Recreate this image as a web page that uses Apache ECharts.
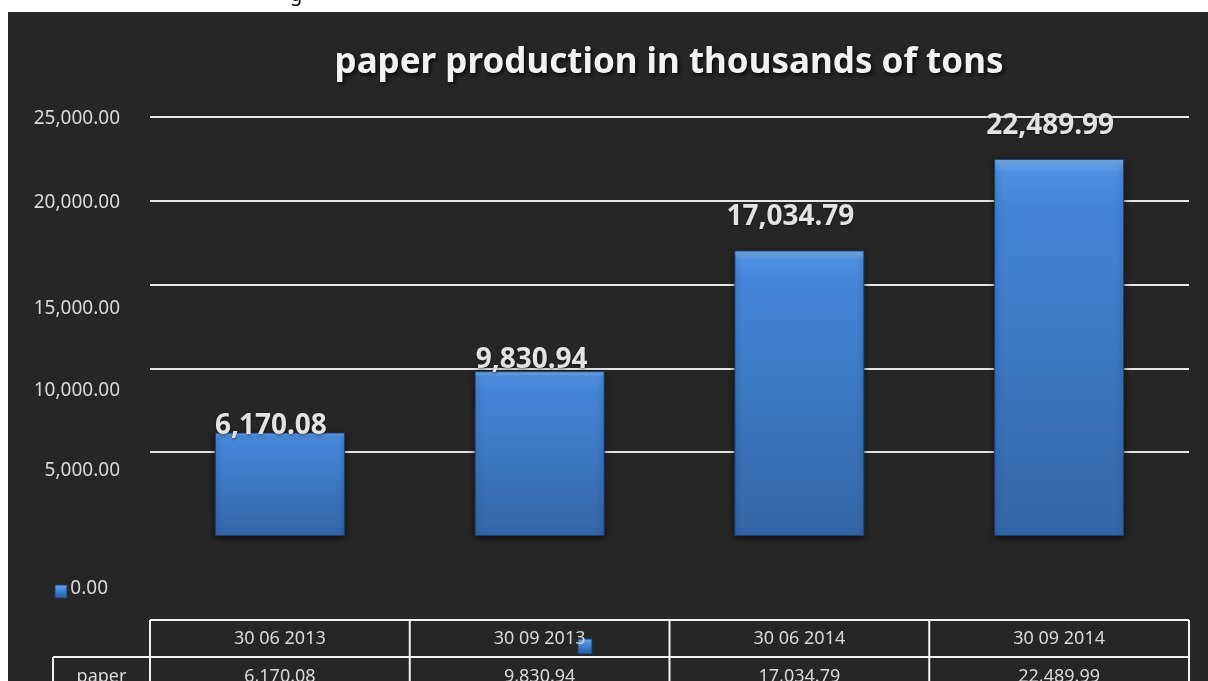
<!DOCTYPE html>
<html>
<head>
<meta charset="utf-8">
<script src="https://cdn.jsdelivr.net/npm/echarts@6/dist/echarts.min.js"></script>
<style>
html,body{margin:0;padding:0;background:#fff;}
#c{width:1208px;height:681px;}
</style>
</head>
<body>
<div id="c"></div>
<script>
// ---- data ----
var categories = ['30 06 2013', '30 09 2013', '30 06 2014', '30 09 2014'];
var seriesName = 'paper';
var paperValues = [6170.08, 9830.94, 17034.79, 22489.99];
var yTicks = [0, 5000, 10000, 15000, 20000, 25000];
var titleText = 'paper production in thousands of tons';

function fmt(v) {
  return v.toLocaleString('en-US', {minimumFractionDigits: 2, maximumFractionDigits: 2});
}

// ---- layout constants ----
var W = 1208, H = 681;
var gridLeft = 150, gridRightX = 1189, gridTop = 117, gridBottomY = 536;
var tableTop = 620, tableMid = 657, tableBottom = 700, paperCellLeft = 53;
var FONT = '"Noto Sans", "Open Sans", sans-serif';

// label position quirks (style only)
var tickShift = {0: [106, 12], 5000: [36, 0], 10000: [44, 0], 15000: [48, 0], 20000: [3, 0], 25000: [4, 0]};
var labelOffsets = [[-9, 12], [-8, 8], [-9, -14], [-9, -14]];

var rich = {};
yTicks.forEach(function (t) {
  var s = tickShift[t];
  rich['t' + t] = {padding: [s[0], s[1], 0, 0], fontSize: 19, color: '#d9d9d9', fontFamily: FONT};
});

var barColor = new echarts.graphic.LinearGradient(0, 0, 0, 1, [
  {offset: 0, color: '#7ab4f5'},
  {offset: 0.035, color: '#4d8fe0'},
  {offset: 0.12, color: '#4385d6'},
  {offset: 1, color: '#3466a8'}
]);

var chart = echarts.init(document.getElementById('c'), null, {renderer: 'canvas'});

var colW = (gridRightX - gridLeft) / categories.length;
var graphics = [
  {type: 'rect', silent: true, z: -10, shape: {x: 8, y: 12, width: W - 8, height: H - 12}, style: {fill: '#262626'}},
  {type: 'text', silent: true, x: 290, y: 5, style: {text: 'g', fontSize: 20, fontFamily: FONT, fill: '#000', textVerticalAlign: 'bottom'}}
];
// table lines
graphics.push({type: 'line', silent: true, shape: {x1: gridLeft, y1: tableTop, x2: gridRightX, y2: tableTop}, style: {stroke: '#f2f2f2', lineWidth: 2}});
graphics.push({type: 'line', silent: true, shape: {x1: paperCellLeft, y1: tableMid, x2: gridRightX, y2: tableMid}, style: {stroke: '#f2f2f2', lineWidth: 2}});
graphics.push({type: 'line', silent: true, shape: {x1: paperCellLeft, y1: tableMid, x2: paperCellLeft, y2: tableBottom}, style: {stroke: '#f2f2f2', lineWidth: 2}});
for (var i = 0; i <= categories.length; i++) {
  var x = gridLeft + colW * i;
  graphics.push({type: 'line', silent: true, shape: {x1: x, y1: tableTop, x2: x, y2: tableBottom}, style: {stroke: '#f2f2f2', lineWidth: 2}});
}
graphics.push({type: 'text', silent: true, x: (paperCellLeft + gridLeft) / 2, y: 677,
  style: {text: seriesName, fontSize: 18, fontFamily: FONT, fill: '#d9d9d9', textAlign: 'center', textVerticalAlign: 'middle'}});
// stray legend keys
function keyIcon(x, y, w, h) {
  return {type: 'rect', silent: true, shape: {x: x, y: y, width: w, height: h},
    style: {fill: new echarts.graphic.LinearGradient(0, 0, 0, 1, [{offset: 0, color: '#6aa8f0'}, {offset: 0.5, color: '#3f7fd0'}, {offset: 1, color: '#2b5a9a'}]), stroke: '#1c3a66', lineWidth: 1}};
}
graphics.push(keyIcon(55, 585, 12, 13));
graphics.push(keyIcon(578, 639, 14, 15));

var option = {
  backgroundColor: '#ffffff',
  animation: false,
  title: {
    text: titleText,
    left: 664,
    top: 41,
    textAlign: 'center',
    textStyle: {color: '#f2f2f2', fontSize: 35, fontWeight: 'bold', fontFamily: FONT,
      textShadowColor: 'rgba(0,0,0,0.8)', textShadowBlur: 4, textShadowOffsetX: 2, textShadowOffsetY: 2}
  },
  grid: {left: gridLeft, right: W - gridRightX, top: gridTop, bottom: H - gridBottomY, containLabel: false, outerBoundsMode: 'none'},
  xAxis: [
    {type: 'category', data: categories, position: 'bottom',
      axisLine: {show: false}, axisTick: {show: false},
      axisLabel: {margin: 103, verticalAlign: 'middle', fontSize: 18, fontFamily: FONT, color: '#d9d9d9'}},
    {type: 'category', data: categories, position: 'bottom',
      axisLine: {show: false}, axisTick: {show: false},
      axisLabel: {margin: 141, verticalAlign: 'middle', fontSize: 18, fontFamily: FONT, color: '#d9d9d9',
        formatter: function (v, idx) { return fmt(paperValues[idx]); }}}
  ],
  yAxis: {
    type: 'value', min: 0, max: 25000, interval: 5000,
    axisLine: {show: false}, axisTick: {show: false},
    splitLine: {show: true, showMinLine: false, lineStyle: {color: '#e6e6e6', width: 2}},
    axisLabel: {margin: 30, formatter: function (v) { return '{t' + v + '|' + fmt(v) + '}'; }, rich: rich}
  },
  series: [{
    name: seriesName,
    type: 'bar',
    barWidth: 130,
    data: paperValues.map(function (v, i) {
      return {value: v, label: {offset: labelOffsets[i]}};
    }),
    itemStyle: {color: barColor, borderColor: '#1f3f6e', borderWidth: 1,
      shadowColor: 'rgba(0,0,0,0.6)', shadowBlur: 6, shadowOffsetY: 2},
    label: {show: true, position: 'top', distance: 5, fontSize: 28, fontWeight: 'bold', fontFamily: FONT,
      color: '#e3e3e3', formatter: function (p) { return fmt(p.value); },
      textShadowColor: 'rgba(0,0,0,0.5)', textShadowBlur: 3, textShadowOffsetY: 1}
  }],
  graphic: graphics
};
chart.setOption(option);
</script>
</body>
</html>
